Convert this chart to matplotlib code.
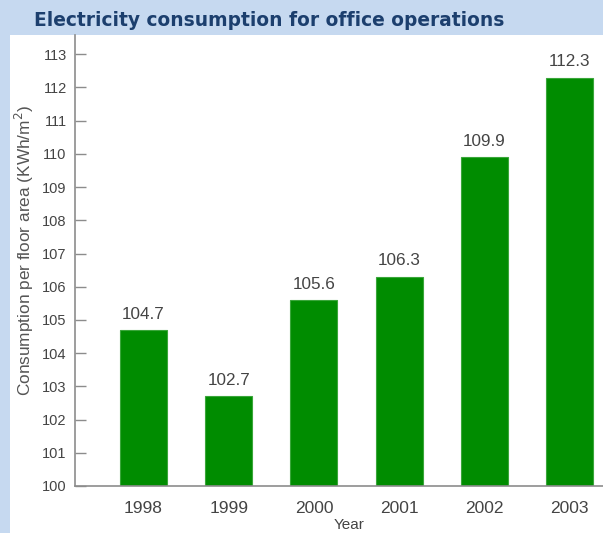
import matplotlib.pyplot as plt
from matplotlib.patches import Rectangle

years = ['1998', '1999', '2000', '2001', '2002', '2003']
consumption = [104.7, 102.7, 105.6, 106.3, 109.9, 112.3]
y_ticks = list(range(100, 114))

plt.rcParams['font.family'] = ['Liberation Sans', 'DejaVu Sans']

fig = plt.figure(figsize=(6.03, 5.33), dpi=100)
fig.patch.set_facecolor('#c6d9f0')

# painel branco atras do grafico
fig.patches.append(Rectangle((10 / 603, 0), 1, 1 - 35 / 533, transform=fig.transFigure,
                             facecolor='white', edgecolor='none', zorder=-5))

fig.text(269 / 603, 1 - 21 / 533, 'Electricity consumption for office operations',
         ha='center', va='center', fontsize=13.4, fontweight='bold',
         color='#1c3f6e', family='DejaVu Sans')

ax = fig.add_axes([75 / 603, 1 - 486 / 533, 528 / 603, 451 / 533])
ax.set_facecolor('none')
ax.set_zorder(2)

x = range(len(years))
bars = ax.bar(x, consumption, width=0.55, bottom=0, color='#008c00',
              edgecolor='#3aa63a', linewidth=0.8)

# valores em cima das barras
for bar, val in zip(bars, consumption):
    ax.text(bar.get_x() + bar.get_width() / 2, val + 0.25, f'{val:.1f}',
            ha='center', va='bottom', fontsize=12.3, color='#444444')

ax.set_ylim(100, 113.58)
ax.set_xlim(-0.804, 5.393)
ax.set_yticks(y_ticks)
ax.set_xticks(list(x))
ax.set_xticklabels(years)

for side in ['top', 'right']:
    ax.spines[side].set_visible(False)
for side in ['left', 'bottom']:
    ax.spines[side].set_color('#8c8c8c')
    ax.spines[side].set_linewidth(1.2)

ax.tick_params(axis='y', direction='in', length=8, width=1, color='#8c8c8c',
               labelsize=10.5, labelcolor='#444444', pad=6)
ax.tick_params(axis='x', length=0, labelsize=12.5, labelcolor='#444444', pad=11)

ax.set_ylabel('Consumption per floor area (KWh/m$^2$)', fontsize=12.4, color='#555555')
ax.yaxis.set_label_coords(-0.074, 0.523)
ax.set_xlabel('Year', fontsize=11, color='#444444', va='bottom')
ax.xaxis.set_label_coords(0.52, -0.102)

plt.savefig('out.png', dpi=100, facecolor=fig.get_facecolor())
plt.close()
